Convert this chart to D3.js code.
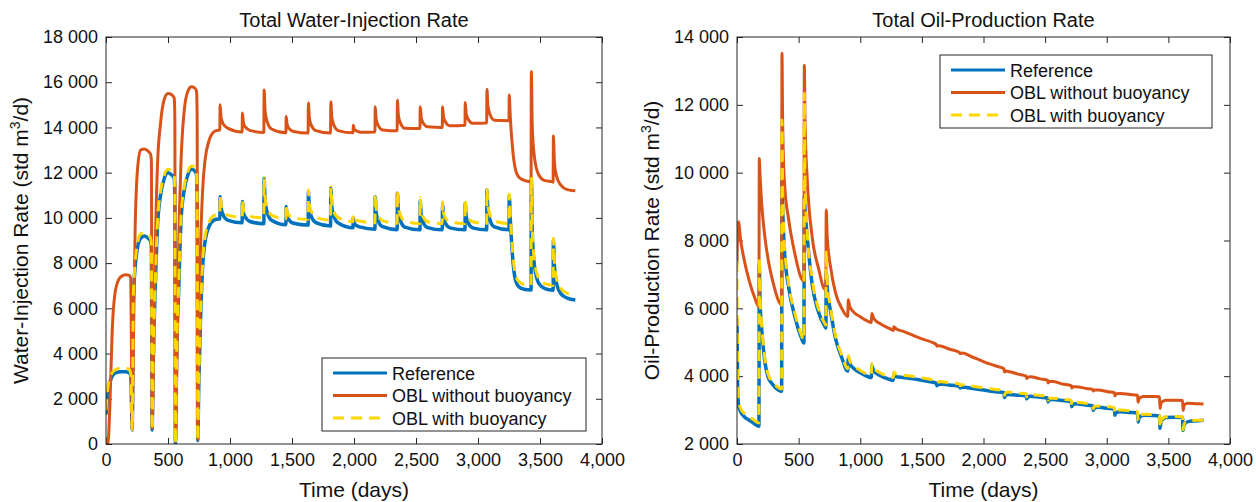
<!DOCTYPE html>
<html>
<head>
<meta charset="utf-8">
<script src="https://cdn.jsdelivr.net/npm/d3@7"></script>
<style>
  body { margin: 0; background: #fff; }
  svg { font-family: "Liberation Sans", Arial, sans-serif; }
</style>
</head>
<body>
<div id="chart"></div>
<script>
// ---- Data: Total Water-Injection Rate (left) ----
const injDays = [0, 15, 30, 50, 80, 120, 160, 190, 200, 207, 212, 220, 235, 255, 280, 310, 340, 360, 366, 372,
  380, 395, 415, 440, 470, 500, 530, 550, 555, 560, 570, 585, 605, 630, 660, 690, 715, 730, 735, 740,
  748, 760, 780, 800, 830, 870, 905,
  918, 920, 928, 945, 980, 1098, 1100, 1108, 1125, 1160, 1273, 1275, 1283, 1300, 1335,
  1451, 1453, 1461, 1478, 1513, 1630, 1632, 1640, 1657, 1692, 1811, 1813, 1821, 1838, 1873,
  1992, 1994, 2002, 2019, 2054, 2169, 2171, 2179, 2196, 2231, 2348, 2350, 2358, 2375, 2410,
  2532, 2534, 2542, 2559, 2594, 2712, 2714, 2722, 2739, 2774, 2895, 2897, 2905, 2922, 2957,
  3070, 3072, 3080, 3097, 3132, 3250, 3252, 3260, 3280, 3300, 3330, 3380, 3426,
  3428, 3430, 3438, 3455, 3490, 3540, 3604, 3606, 3608, 3616, 3633, 3668, 3720, 3785];

const injRef = [1300, 2200, 2700, 3000, 3150, 3200, 3200, 3130, 3000, 1500, 620, 6300, 7800, 8700, 9100, 9200, 9100, 8950, 8700, 620,
  3500, 6500, 9600, 11000, 11750, 12000, 11900, 11750, 11000, 0, 4000, 6600, 9900, 11200, 11900, 12150, 12080, 11900, 10500, 150,
  2500, 5100, 7900, 9000, 9600, 9900, 9950,
  9950, 10940, 10450, 10130, 9900, 9780, 10720, 10250, 10020, 9840, 9740, 11750, 10750, 10240, 9900,
  9700, 10500, 10100, 9900, 9760, 9680, 11160, 10420, 10050, 9790, 9640, 11310, 10480, 10060, 9770,
  9560, 10000, 9780, 9670, 9590, 9500, 10940, 10220, 9860, 9610, 9480, 11090, 10290, 9880, 9590,
  9470, 10760, 10120, 9790, 9570, 9470, 10570, 10020, 9750, 9560, 9470, 10650, 10060, 9770, 9560,
  9470, 11230, 10350, 9910, 9600, 9470, 10980, 10000, 8200, 7300, 6950, 6830, 6810,
  6810, 11750, 9300, 7900, 7100, 6870, 6800, 6800, 9020, 7900, 7100, 6650, 6450, 6370];

const injNoBuoy = [300, 0, 1500, 5000, 6900, 7400, 7480, 7450, 7300, 3000, 650, 4000, 9500, 12200, 13000, 13050, 12950, 12800, 12500, 700,
  2500, 8000, 12300, 14200, 15250, 15500, 15450, 15300, 14500, 100, 3000, 8500, 12500, 14700, 15600, 15800, 15750, 15600, 14500, 200,
  3500, 8000, 11300, 12600, 13400, 13800, 13880,
  13880, 15000, 14440, 14160, 13970, 13800, 14640, 14220, 14010, 13870, 13780, 15660, 14720, 14250, 13930,
  13760, 14480, 14120, 13940, 13820, 13750, 15080, 14420, 14080, 13860, 13750, 15140, 14450, 14100, 13860,
  13760, 14100, 13930, 13850, 13790, 13800, 14920, 14360, 14080, 13890, 13850, 15200, 14530, 14190, 13960,
  13950, 14920, 14440, 14190, 14030, 14000, 14920, 14460, 14230, 14070, 14100, 15100, 14600, 14350, 14180,
  14200, 15690, 14950, 14570, 14320, 14300, 15440, 14500, 13000, 12200, 11800, 11650, 11600,
  11600, 16470, 14000, 12700, 11900, 11650, 11600, 11580, 13620, 12500, 11850, 11450, 11250, 11200];

const injBuoy = [1500, 2500, 2900, 3150, 3300, 3350, 3350, 3280, 3100, 1500, 620, 6500, 8000, 8900, 9300, 9350, 9250, 9100, 8800, 620,
  3600, 6700, 9800, 11150, 11900, 12150, 12050, 11900, 11100, 0, 4100, 6800, 10000, 11350, 12050, 12300, 12250, 12050, 10600, 150,
  2600, 5300, 8100, 9200, 9800, 10100, 10150,
  10150, 11000, 10600, 10350, 10120, 10030, 10800, 10400, 10220, 10070, 10000, 11790, 10900, 10450, 10120,
  9960, 10600, 10280, 10100, 9990, 9940, 11250, 10600, 10270, 10030, 9900, 11380, 10640, 10280, 10010,
  9830, 10150, 9990, 9900, 9850, 9780, 11050, 10420, 10100, 9880, 9760, 11200, 10480, 10120, 9860,
  9750, 10900, 10330, 10030, 9830, 9750, 10700, 10230, 9990, 9820, 9750, 10800, 10280, 10010, 9830,
  9750, 11300, 10530, 10140, 9870, 9750, 11050, 10200, 8450, 7550, 7180, 7050, 7030,
  7030, 11800, 9500, 8100, 7320, 7090, 7020, 7020, 9100, 8100, 7320, 6880, 6660, 6590];

// ---- Data: Total Oil-Production Rate (right) ----
const prodDays = [0, 5, 12, 30, 60, 100, 140, 178, 181, 186, 200, 220, 250, 290, 340, 362,
  365, 370, 385, 420, 470, 520, 543, 546, 552, 570, 610, 660, 716, 721, 724, 732, 760, 800, 850, 898,
  903, 915, 950, 1000, 1060,
  1090, 1094, 1110, 1160, 1240, 1268, 1272, 1290, 1350, 1430, 1500, 1580, 1618, 1622, 1640, 1720, 1806, 1810, 1830, 1900,
  2000, 2100, 2166, 2170, 2180, 2200, 2280, 2346, 2350, 2360, 2380, 2460, 2520, 2524, 2534, 2560, 2640,
  2712, 2716, 2726, 2750, 2830, 2886, 2890, 2900, 2930, 3010, 3062, 3066, 3076, 3110, 3190,
  3250, 3254, 3264, 3300, 3380, 3428, 3432, 3442, 3480, 3560, 3615, 3619, 3629, 3660, 3720, 3785];

const prodRef = [5700, 3700, 3150, 2950, 2800, 2700, 2600, 2520, 7300, 6300, 5400, 4600, 4000, 3750, 3580, 3550,
  9800, 9000, 7700, 6600, 5750, 5150, 4980, 9300, 8900, 8100, 6700, 5900, 5450, 5420, 7040, 6600, 5900, 5100, 4550, 4150,
  4530, 4380, 4220, 4100, 3990,
  3960, 4300, 4150, 4020, 3900, 3880, 4060, 3990, 3960, 3920, 3880, 3830, 3790, 3720, 3770, 3740, 3700, 3650, 3680, 3640,
  3590, 3540, 3510, 3370, 3440, 3460, 3440, 3420, 3330, 3390, 3410, 3380, 3360, 3240, 3300, 3310, 3280,
  3240, 3100, 3170, 3190, 3150, 3120, 2990, 3060, 3080, 3050, 3020, 2850, 2930, 2950, 2930,
  2910, 2650, 2790, 2850, 2840, 2820, 2460, 2680, 2780, 2790, 2780, 2400, 2580, 2660, 2680, 2700];

const prodNoBuoy = [7300, 8300, 8550, 8000, 7400, 6800, 6350, 6050, 10420, 10000, 9100, 8300, 7500, 6800, 6200, 6100,
  13520, 11600, 9700, 8600, 7600, 6900, 6800, 13170, 11500, 9800, 8100, 7200, 6550, 6550, 8900, 8100, 7200, 6450, 6000, 5760,
  6250, 6050, 5880, 5750, 5620,
  5580, 5850, 5700, 5550, 5400, 5350, 5460, 5400, 5320, 5200, 5100, 5000, 4930, 4880, 4900, 4800, 4700, 4660, 4680, 4580,
  4430, 4300, 4220, 4120, 4150, 4140, 4060, 4000, 3930, 3970, 3980, 3920, 3880, 3800, 3840, 3840, 3770,
  3720, 3650, 3690, 3690, 3640, 3610, 3560, 3590, 3590, 3540, 3510, 3420, 3480, 3490, 3460,
  3440, 3230, 3350, 3400, 3400, 3390, 3050, 3220, 3290, 3290, 3280, 2990, 3150, 3200, 3190, 3180];

const prodBuoy = [7400, 4200, 3300, 3050, 2900, 2800, 2700, 2620, 7500, 6500, 5550, 4700, 4080, 3820, 3650, 3620,
  11550, 9600, 7900, 6700, 5850, 5230, 5060, 12340, 9800, 8250, 6850, 6000, 5530, 5500, 7720, 6800, 6000, 5180, 4620, 4220,
  4600, 4450, 4300, 4170, 4060,
  4030, 4380, 4230, 4100, 3980, 3960, 4120, 4060, 4030, 3990, 3950, 3900, 3860, 3800, 3840, 3810, 3770, 3720, 3750, 3710,
  3660, 3610, 3580, 3440, 3510, 3530, 3500, 3480, 3390, 3450, 3460, 3430, 3410, 3290, 3350, 3350, 3320,
  3290, 3150, 3220, 3230, 3200, 3170, 3040, 3110, 3120, 3100, 3070, 2900, 2980, 3000, 2980,
  2960, 2680, 2820, 2880, 2870, 2860, 2480, 2700, 2800, 2810, 2800, 2420, 2600, 2680, 2700, 2700];

// ---- Axes / legend ----
const xTicks = [0, 500, 1000, 1500, 2000, 2500, 3000, 3500, 4000];
const injTicks = [0, 2000, 4000, 6000, 8000, 10000, 12000, 14000, 16000, 18000];
const prodTicks = [2000, 4000, 6000, 8000, 10000, 12000, 14000];
const seriesNames = ['Reference', 'OBL without buoyancy', 'OBL with buoyancy'];
const seriesColors = ['#0072BD', '#D95319', '#FFD600'];

const width = 1256, height = 502;

const svg = d3.select('#chart')
  .append('svg')
  .attr('width', width)
  .attr('height', height)

function drawPanel(opts) {
  const { id, left, right, top, bottom, yDomain, yTicks, days, series, title, ylabel, legendPos } = opts

  const x = d3.scaleLinear().domain([0, 4000]).range([left, right])
  const y = d3.scaleLinear().domain(yDomain).range([bottom, top])

  const g = svg.append('g')

  g.append('clipPath').attr('id', 'clip-' + id)
    .append('rect')
    .attr('x', left).attr('y', top)
    .attr('width', right - left).attr('height', bottom - top)

  const fmtX = d3.format(',')
  const fmtY = d => d3.format(',')(d).replace(/,/g, ' ')

  // axes with inward ticks on all four sides
  const axB = g.append('g').attr('transform', `translate(0,${bottom})`)
    .call(d3.axisBottom(x).tickValues(xTicks).tickSize(-6).tickPadding(9).tickFormat(fmtX))
  const axT = g.append('g').attr('transform', `translate(0,${top})`)
    .call(d3.axisTop(x).tickValues(xTicks).tickSize(-6).tickFormat(''))
  const axL = g.append('g').attr('transform', `translate(${left},0)`)
    .call(d3.axisLeft(y).tickValues(yTicks).tickSize(-6).tickPadding(8).tickFormat(fmtY))
  const axR = g.append('g').attr('transform', `translate(${right},0)`)
    .call(d3.axisRight(y).tickValues(yTicks).tickSize(-6).tickFormat(''))

  ;[axB, axT, axL, axR].forEach(a => {
    a.select('.domain').remove()
    a.selectAll('line').attr('stroke', '#262626')
    a.selectAll('text').attr('fill', '#111').style('font-size', '18px')
      .style('font-family', '"Liberation Sans", Arial, sans-serif')
  })

  // lines
  const line = d3.line()
    .x((d, i) => x(days[i]))
    .y(d => y(d))
    .curve(d3.curveMonotoneX)

  const lines = g.append('g').attr('clip-path', `url(#clip-${id})`)

  series.forEach((vals, k) => {
    lines.append('path')
      .datum(vals)
      .attr('fill', 'none')
      .attr('stroke', seriesColors[k])
      .attr('stroke-width', k === 0 ? 3.5 : 3)
      .attr('stroke-linejoin', 'round')
      .attr('stroke-dasharray', k === 2 ? '11,7' : null)
      .attr('d', line)
  })

  // box
  g.append('rect')
    .attr('x', left).attr('y', top)
    .attr('width', right - left).attr('height', bottom - top)
    .attr('fill', 'none')
    .attr('stroke', '#262626')
    .attr('stroke-width', 1)

  // title + labels
  g.append('text')
    .attr('x', (left + right) / 2).attr('y', 27)
    .attr('text-anchor', 'middle')
    .style('font-size', '20px')
    .attr('fill', '#111')
    .text(title)

  g.append('text')
    .attr('x', (left + right) / 2).attr('y', 497)
    .attr('text-anchor', 'middle')
    .style('font-size', '21px')
    .attr('fill', '#111')
    .text('Time (days)')

  const yl = g.append('text')
    .attr('transform', `translate(${left - 78},${(top + bottom) / 2}) rotate(-90)`)
    .attr('text-anchor', 'middle')
    .style('font-size', '21px')
    .attr('fill', '#111')
  yl.append('tspan').text(ylabel + ' (std m')
  yl.append('tspan').attr('dy', -8).style('font-size', '14px').text('3')
  yl.append('tspan').attr('dy', 8).text('/d)')

  // legend
  const lg = g.append('g').attr('transform', `translate(${legendPos[0]},${legendPos[1]})`)
  lg.append('rect')
    .attr('width', legendPos[2]).attr('height', 73)
    .attr('fill', '#fff')
    .attr('stroke', '#262626')
    .attr('stroke-width', 1)

  seriesNames.forEach((name, k) => {
    const ly = 15 + k * 22.5
    lg.append('line')
      .attr('x1', 11).attr('x2', 65)
      .attr('y1', ly).attr('y2', ly)
      .attr('stroke', seriesColors[k])
      .attr('stroke-width', 3)
      .attr('stroke-dasharray', k === 2 ? '11,7' : null)
    lg.append('text')
      .attr('x', 70).attr('y', ly + 6.5)
      .style('font-size', '18px')
      .attr('fill', '#111')
      .text(name)
  })
}

drawPanel({
  id: 'inj', left: 106, right: 602, top: 37, bottom: 444,
  yDomain: [0, 18000], yTicks: injTicks, days: injDays,
  series: [injRef, injNoBuoy, injBuoy],
  title: 'Total Water-Injection Rate', ylabel: 'Water-Injection Rate',
  legendPos: [322, 358, 264]
})

drawPanel({
  id: 'prod', left: 737, right: 1230, top: 37, bottom: 444,
  yDomain: [2000, 14000], yTicks: prodTicks, days: prodDays,
  series: [prodRef, prodNoBuoy, prodBuoy],
  title: 'Total Oil-Production Rate', ylabel: 'Oil-Production Rate',
  legendPos: [940, 55, 272]
})
</script>
</body>
</html>
